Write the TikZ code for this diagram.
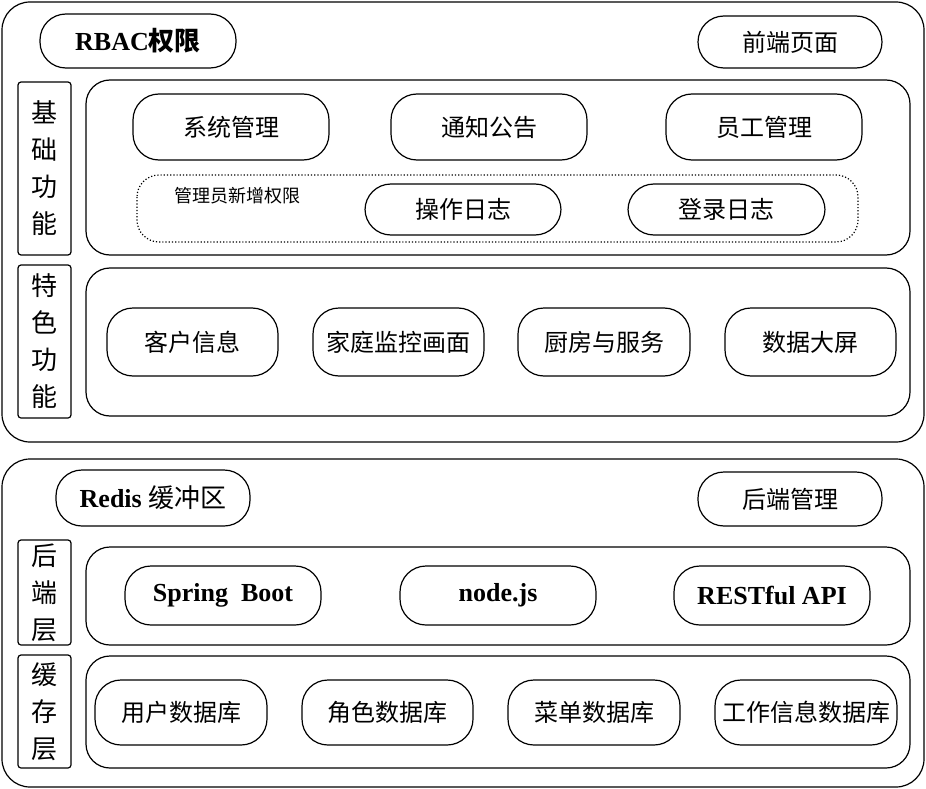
\documentclass[tikz,border=0pt]{standalone}
\usepackage{fontspec}
\setmainfont{Liberation Serif}
\newfontfamily\cjk{Noto Sans CJK SC}
\begin{document}
\begin{tikzpicture}[x=1pt,y=-1pt,line width=1.2pt,
    frame/.style={draw,rounded corners=28pt},
    panel/.style={draw,rounded corners=24pt},
    pill/.style={draw,rounded corners=26pt,inner sep=0pt,font=\cjk\fontsize{24}{28}\selectfont},
    latin/.style={font=\bfseries\fontsize{26}{30}\selectfont},
    side/.style={draw,rounded corners=3pt,inner sep=0pt,minimum width=53pt,font=\cjk\fontsize{26}{37}\selectfont,align=center}]
    \useasboundingbox (0,0) rectangle (926,789);
    % top part
    \draw[frame] (2,2) rectangle (924,442);
    \node[pill,latin,minimum width=196pt,minimum height=54pt] (rbac) at (138,41) {RBAC{\cjk 权限}};
    \node[pill,minimum width=184pt,minimum height=52pt] (front) at (790,42) {前端页面};
    \node[side,minimum height=173pt] (basic) at (44.5,168.5) {基\\础\\功\\能};
    \node[side,minimum height=153pt] (special) at (44.5,341.5) {特\\色\\功\\能};
    \draw[panel] (86,80) rectangle (910,255);
    \node[pill,minimum width=196pt,minimum height=66pt] (sys) at (231,127) {系统管理};
    \node[pill,minimum width=196pt,minimum height=66pt] (notice) at (489,127) {通知公告};
    \node[pill,minimum width=196pt,minimum height=66pt] (staff) at (764,127) {员工管理};
    \draw[dotted,rounded corners=22pt] (137,175) rectangle (858,242);
    \node[font=\cjk\fontsize{18}{20}\selectfont] (admin) at (237,196) {管理员新增权限};
    \node[pill,minimum width=196pt,minimum height=51pt] (oplog) at (463,209.5) {操作日志};
    \node[pill,minimum width=197pt,minimum height=51pt] (login) at (726.5,209.5) {登录日志};
    \draw[panel] (86,268) rectangle (910,416);
    \node[pill,minimum width=171pt,minimum height=68pt] (cust) at (192.5,342) {客户信息};
    \node[pill,minimum width=171pt,minimum height=68pt] (home) at (398.5,342) {家庭监控画面};
    \node[pill,minimum width=172pt,minimum height=68pt] (kitchen) at (604,342) {厨房与服务};
    \node[pill,minimum width=171pt,minimum height=68pt] (screen) at (810.5,342) {数据大屏};
    % bottom part
    \draw[frame] (2,459) rectangle (924,787);
    \node[pill,latin,minimum width=194pt,minimum height=56pt] (redis) at (153,498) {Redis {\cjk\mdseries 缓冲区}};
    \node[pill,minimum width=184pt,minimum height=54pt] (back) at (790,499) {后端管理};
    \node[side,minimum height=105pt] (blayer) at (44.5,592.5) {后\\端\\层};
    \node[side,minimum height=113pt] (clayer) at (44.5,711.5) {缓\\存\\层};
    \draw[panel] (86,547) rectangle (910,645);
    \node[pill,latin,minimum width=196pt,minimum height=59pt] (spring) at (223,595.5) {Spring\ \ Boot};
    \node[pill,latin,minimum width=196pt,minimum height=59pt] (node) at (498,595.5) {node.js};
    \node[pill,latin,minimum width=196pt,minimum height=59pt] (rest) at (772,595.5) {RESTful API};
    \draw[panel] (86,656) rectangle (910,768);
    \node[pill,minimum width=172pt,minimum height=65pt] (user) at (181,712.5) {用户数据库};
    \node[pill,minimum width=171pt,minimum height=65pt] (role) at (387.5,712.5) {角色数据库};
    \node[pill,minimum width=172pt,minimum height=65pt] (menu) at (594,712.5) {菜单数据库};
    \node[pill,minimum width=182pt,minimum height=65pt] (work) at (806,712.5) {工作信息数据库};
\end{tikzpicture}
\end{document}
